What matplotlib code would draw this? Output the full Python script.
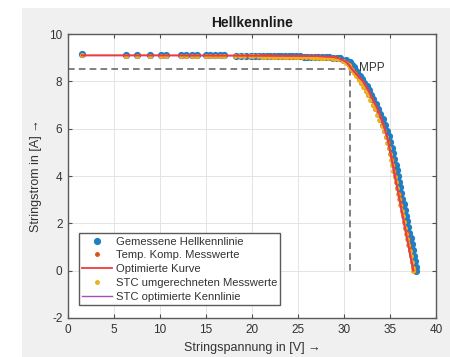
import matplotlib
matplotlib.use("Agg")
import matplotlib.pyplot as plt
from matplotlib.patches import Rectangle

plt.rcParams['font.family'] = ['Liberation Sans', 'DejaVu Sans']
plt.rcParams['axes.unicode_minus'] = False

# Gemessene Hellkennlinie (Spannung in V, Strom in A)
spannung_gemessen = [
    1.5, 6.3, 7.5, 8.9, 10.1, 10.7, 12.3, 12.8, 13.5, 14.0, 15.0, 15.4, 16.0, 16.5, 17.0,
    18.3, 18.8, 19.3, 19.9, 20.3, 20.8, 21.2, 21.6, 22.0, 22.4, 22.8, 23.2, 23.6, 24.0,
    24.4, 24.8, 25.2, 25.6, 26.0, 26.4, 26.8, 27.2, 27.6, 28.0, 28.4, 28.8, 29.2, 29.6,
    30.2, 30.6, 30.85, 31.05, 31.2, 31.45, 31.7, 31.95, 32.2, 32.45, 32.7, 32.95, 33.2,
    33.45, 33.7, 33.95, 34.2, 34.45, 34.7, 34.9, 35.05, 35.2, 35.35, 35.48, 35.6, 35.73,
    35.85, 35.98, 36.1, 36.23, 36.35, 36.48, 36.6, 36.73, 36.85, 36.98, 37.1, 37.23,
    37.35, 37.48, 37.6, 37.72, 37.82, 37.87]
strom_gemessen = [
    9.15, 9.10, 9.10, 9.10, 9.10, 9.10, 9.10, 9.10, 9.10, 9.12, 9.12, 9.10, 9.10, 9.10, 9.10,
    9.09, 9.09, 9.08, 9.08, 9.08, 9.08, 9.07, 9.07, 9.07, 9.07, 9.06, 9.06, 9.06, 9.05,
    9.05, 9.05, 9.05, 9.04, 9.04, 9.04, 9.03, 9.03, 9.02, 9.02, 9.01, 9.00, 8.99, 8.97,
    8.90, 8.80, 8.70, 8.60, 8.50, 8.38, 8.24, 8.10, 7.95, 7.80, 7.62, 7.44, 7.24,
    7.04, 6.84, 6.62, 6.40, 6.16, 5.92, 5.68, 5.44, 5.20, 4.96, 4.72, 4.48, 4.24,
    4.00, 3.76, 3.52, 3.28, 3.04, 2.80, 2.56, 2.32, 2.08, 1.84, 1.60, 1.36,
    1.12, 0.88, 0.64, 0.40, 0.16, 0.00]

# Temperaturkompensierte Messwerte
spannung_tk = [
    1.5, 6.3, 7.5, 8.9, 10.1, 10.7, 12.3, 12.8, 13.5, 14.0, 15.0, 15.4, 16.0, 16.5, 17.0,
    18.2, 18.7, 19.2, 19.8, 20.2, 20.7, 21.1, 21.5, 21.9, 22.3, 22.7, 23.1, 23.5, 23.9,
    24.3, 24.7, 25.1, 25.5, 25.9, 26.3, 26.7, 27.1, 27.5, 27.9, 28.3, 28.7, 29.0, 29.4,
    29.9, 30.3, 30.55, 30.75, 30.9, 31.15, 31.4, 31.65, 31.9, 32.15, 32.4, 32.65, 32.9,
    33.15, 33.4, 33.65, 33.9, 34.15, 34.4, 34.6, 34.75, 34.9, 35.05, 35.18, 35.3, 35.43,
    35.55, 35.68, 35.8, 35.93, 36.05, 36.18, 36.3, 36.43, 36.55, 36.68, 36.8, 36.93,
    37.05, 37.18, 37.3, 37.42, 37.52, 37.57]
strom_tk = [
    9.12, 9.08, 9.08, 9.08, 9.08, 9.08, 9.08, 9.08, 9.08, 9.09, 9.09, 9.08, 9.08, 9.08, 9.08,
    9.07, 9.07, 9.06, 9.06, 9.06, 9.06, 9.05, 9.05, 9.05, 9.05, 9.04, 9.04, 9.04, 9.03,
    9.03, 9.03, 9.03, 9.02, 9.02, 9.02, 9.01, 9.01, 9.00, 9.00, 8.99, 8.98, 8.97, 8.95,
    8.88, 8.78, 8.68, 8.58, 8.48, 8.36, 8.22, 8.08, 7.93, 7.78, 7.60, 7.42, 7.22,
    7.02, 6.82, 6.60, 6.38, 6.14, 5.90, 5.66, 5.42, 5.18, 4.94, 4.70, 4.46, 4.22,
    3.98, 3.74, 3.50, 3.26, 3.02, 2.78, 2.54, 2.30, 2.06, 1.82, 1.58, 1.34,
    1.10, 0.86, 0.62, 0.38, 0.14, 0.00]

# Auf STC umgerechnete Messwerte
spannung_stc = [
    1.5, 6.3, 7.5, 8.9, 10.1, 10.7, 12.3, 12.8, 13.5, 14.0, 15.0, 15.4, 16.0, 16.5, 17.0,
    18.15, 18.65, 19.15, 19.75, 20.15, 20.65, 21.05, 21.45, 21.85, 22.25, 22.65, 23.05, 23.45, 23.85,
    24.25, 24.65, 25.05, 25.45, 25.85, 26.25, 26.65, 27.05, 27.45, 27.85, 28.25, 28.65, 28.95, 29.35,
    29.85, 30.25, 30.5, 30.7, 30.85, 31.1, 31.35, 31.6, 31.85, 32.1, 32.35, 32.6, 32.85,
    33.1, 33.35, 33.6, 33.85, 34.1, 34.35, 34.55, 34.7, 34.85, 35.0, 35.13, 35.25, 35.38,
    35.5, 35.63, 35.75, 35.88, 36.0, 36.13, 36.25, 36.38, 36.5, 36.63, 36.75, 36.88,
    37.0, 37.13, 37.25, 37.37, 37.47, 37.52]
strom_stc = [
    9.11, 9.07, 9.07, 9.07, 9.07, 9.07, 9.07, 9.07, 9.07, 9.08, 9.08, 9.07, 9.07, 9.07, 9.07,
    9.06, 9.06, 9.05, 9.05, 9.05, 9.05, 9.04, 9.04, 9.04, 9.04, 9.03, 9.03, 9.03, 9.02,
    9.02, 9.02, 9.02, 9.01, 9.01, 9.01, 9.00, 9.00, 8.99, 8.99, 8.98, 8.97, 8.96, 8.94,
    8.87, 8.77, 8.67, 8.57, 8.47, 8.35, 8.21, 8.07, 7.92, 7.77, 7.59, 7.41, 7.21,
    7.01, 6.81, 6.59, 6.37, 6.13, 5.89, 5.65, 5.41, 5.17, 4.93, 4.69, 4.45, 4.21,
    3.97, 3.73, 3.49, 3.25, 3.01, 2.77, 2.53, 2.29, 2.05, 1.81, 1.57, 1.33,
    1.09, 0.85, 0.61, 0.37, 0.13, 0.00]

# Optimierte Kurve (Modellanpassung)
spannung_opt = [1.5, 10.0, 20.0, 25.0, 27.0, 28.5, 29.3, 29.9, 30.3, 30.55, 30.85, 31.15,
                31.6, 32.1, 32.7, 33.2, 33.6, 34.0, 34.45, 34.8, 35.05, 35.3, 35.55,
                35.8, 36.05, 36.3, 36.55, 36.8, 37.05, 37.3, 37.55]
strom_opt = [9.10, 9.10, 9.09, 9.08, 9.07, 9.04, 9.00, 8.90, 8.80, 8.70, 8.53, 8.40,
             8.20, 8.00, 7.60, 7.20, 6.90, 6.50, 6.00, 5.50, 5.00, 4.50, 4.00,
             3.50, 3.00, 2.50, 2.00, 1.50, 1.00, 0.50, 0.00]

# STC optimierte Kennlinie
spannung_stc_opt = [1.5, 10.0, 20.0, 25.0, 27.0, 28.5, 29.3, 29.9, 30.3, 30.5, 30.8, 31.1,
                    31.55, 32.05, 32.65, 33.15, 33.55, 33.95, 34.4, 34.75, 35.0, 35.25, 35.5,
                    35.75, 36.0, 36.25, 36.5, 36.75, 37.0, 37.25, 37.5]
strom_stc_opt = [9.09, 9.09, 9.08, 9.07, 9.06, 9.03, 8.99, 8.89, 8.79, 8.69, 8.52, 8.39,
                 8.19, 7.99, 7.59, 7.19, 6.89, 6.49, 5.99, 5.49, 4.99, 4.49, 3.99,
                 3.49, 2.99, 2.49, 1.99, 1.49, 0.99, 0.49, 0.00]

# Maximum Power Point
mpp_spannung = 30.7
mpp_strom = 8.53

x_ticks = [0, 5, 10, 15, 20, 25, 30, 35, 40]
y_ticks = [-2, 0, 2, 4, 6, 8, 10]

fig = plt.figure(figsize=(4.5, 3.57), dpi=100, facecolor='white')
fig.patches.append(Rectangle((22 / 450, 0), 1 - 22 / 450, 349 / 357,
                             transform=fig.transFigure, facecolor='#f0f0f0',
                             edgecolor='none', zorder=-10))

ax = fig.add_axes([68 / 450, 1 - 318 / 357, (436 - 68) / 450, (318 - 34) / 357])
ax.set_zorder(1)
ax.set_facecolor('white')

ax.plot(spannung_gemessen, strom_gemessen, 'o', color='#1f7fc4', markersize=5.2,
        markeredgewidth=0, label='Gemessene Hellkennlinie', zorder=3)
ax.plot(spannung_tk, strom_tk, '.', color='#D95319', markersize=5,
        label='Temp. Komp. Messwerte', zorder=4)
ax.plot(spannung_opt, strom_opt, '-', color='#f23a3a', linewidth=1.3,
        label='Optimierte Kurve', zorder=6)
ax.plot(spannung_stc, strom_stc, '.', color='#EDB120', markersize=5,
        label='STC umgerechneten Messwerte', zorder=5)
ax.plot(spannung_stc_opt, strom_stc_opt, '-', color='#A34FB5', linewidth=1.0,
        label='STC optimierte Kennlinie', zorder=5.5)

# MPP-Hilfslinien
ax.plot([0, mpp_spannung], [mpp_strom, mpp_strom], color='#6b6b6b', linewidth=1.2,
        linestyle=(0, (4, 2.5)), zorder=2)
ax.plot([mpp_spannung, mpp_spannung], [mpp_strom, 0], color='#6b6b6b', linewidth=1.2,
        linestyle=(0, (4, 2.5)), zorder=2)
ax.text(31.6, 8.57, 'MPP', fontsize=8.5, color='#333333', va='center', ha='left')

ax.set_xlim(0, 40)
ax.set_ylim(-2, 10)
ax.set_xticks(x_ticks)
ax.set_yticks(y_ticks)
ax.grid(True, color='#e4e4e4', linewidth=0.7)
ax.set_axisbelow(True)
ax.tick_params(direction='in', length=3, width=0.8, colors='#4d4d4d',
               labelcolor='#333333', labelsize=8.5, top=True, right=True, pad=4)
for s in ax.spines.values():
    s.set_color('#5a5a5a')
    s.set_linewidth(1.0)

ax.set_title('Hellkennline', fontsize=10, fontweight='bold', color='#1a1a1a', pad=5)
ax.set_xlabel('Stringspannung in [V] \u2192', fontsize=9, color='#333333', labelpad=5)
ax.set_ylabel('Stringstrom in [A] \u2192', fontsize=9, color='#333333', labelpad=5)

leg = ax.legend(loc='lower left', bbox_to_anchor=(0.03, 0.045), fontsize=8.1,
                frameon=True, fancybox=False, framealpha=1, edgecolor='#5a5a5a',
                handlelength=2.6, handletextpad=0.35, labelspacing=0.34,
                borderpad=0.3, borderaxespad=0)
leg.get_frame().set_linewidth(1.0)
for t in leg.get_texts():
    t.set_color('#333333')

fig.savefig('out.png', dpi=100, facecolor=fig.get_facecolor())
